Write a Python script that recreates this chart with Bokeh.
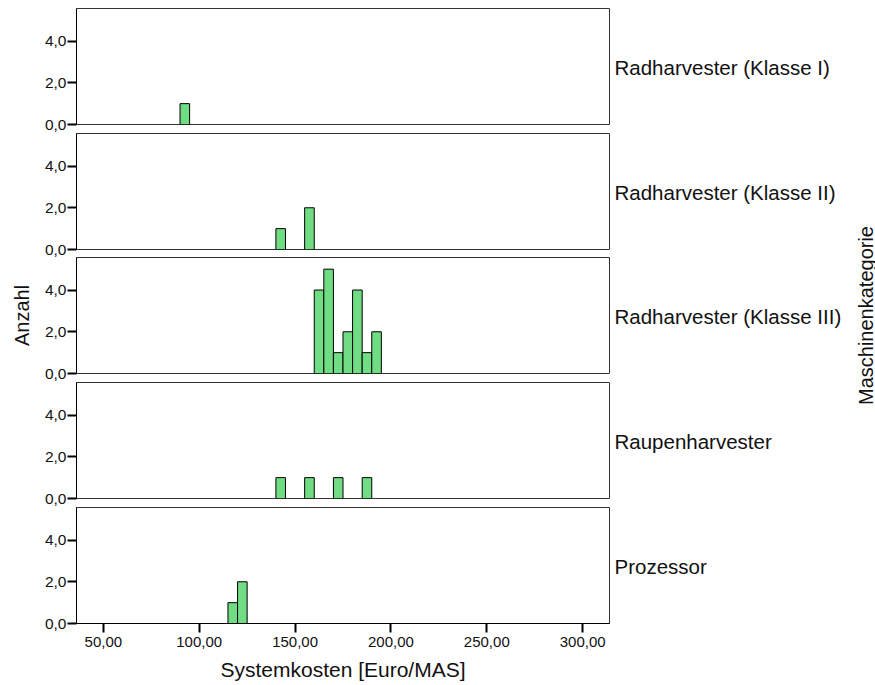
from bokeh.plotting import figure
from bokeh.layouts import column, row
from bokeh.models import Range1d, FixedTicker, LinearAxis, Label
from bokeh.embed import file_html
from bokeh.resources import INLINE
import math

# Histogram of system costs, one panel per machine category
categories = [
    "Radharvester (Klasse I)",
    "Radharvester (Klasse II)",
    "Radharvester (Klasse III)",
    "Raupenharvester",
    "Prozessor",
]
bin_width = 5.0

# left edges of the occupied bins and their counts
klasse1_bins = [90]
klasse1_counts = [1]
klasse2_bins = [140, 155]
klasse2_counts = [1, 2]
klasse3_bins = [160, 165, 170, 175, 180, 185, 190]
klasse3_counts = [4, 5, 1, 2, 4, 1, 2]
raupen_bins = [140, 155, 170, 185]
raupen_counts = [1, 1, 1, 1]
prozessor_bins = [115, 120]
prozessor_counts = [1, 2]

x_ticks = [50, 100, 150, 200, 250, 300]
x_tick_labels = ["50,00", "100,00", "150,00", "200,00", "250,00", "300,00"]
y_ticks = [0, 2, 4]
y_tick_labels = ["0,0", "2,0", "4,0"]

x_title = "Systemkosten [Euro/MAS]"
y_title = "Anzahl"
facet_title = "Maschinenkategorie"

series = [
    (klasse1_bins, klasse1_counts),
    (klasse2_bins, klasse2_counts),
    (klasse3_bins, klasse3_counts),
    (raupen_bins, raupen_counts),
    (prozessor_bins, prozessor_counts),
]

FONT = "Liberation Sans"
TEXT = "#111111"
BAR_FILL = "#70DC84"
X_MIN, X_MAX = 36.0, 314.0
Y_MAX = 5.56
LABEL_Y = 2.75
BORDER_LEFT = 76
FRAME_W = 533
BORDER_RIGHT = 238
PAGE_W, PAGE_H = 875, 685
top_borders = [8, 1, 0, 1, 1]
bottom_borders = [8, 8, 8, 8, 62]

panels = []
for i, (cat, (bins, counts)) in enumerate(zip(categories, series)):
    last = i == len(categories) - 1
    p = figure(
        output_backend="svg",
        toolbar_location=None,
        frame_width=FRAME_W,
        frame_height=116,
        x_range=Range1d(X_MIN, X_MAX),
        y_range=Range1d(0, Y_MAX),
        min_border_left=BORDER_LEFT,
        min_border_right=BORDER_RIGHT,
        min_border_top=top_borders[i],
        min_border_bottom=bottom_borders[i],
        background_fill_color="white",
        border_fill_color="white",
    )
    p.grid.visible = False
    p.outline_line_color = "#333333"
    p.outline_line_width = 1

    rights = [b + bin_width for b in bins]
    p.quad(left=bins, right=rights, bottom=0, top=counts,
           fill_color=BAR_FILL, line_color="black", line_width=1)

    # count axis
    ya = p.yaxis[0]
    ya.ticker = FixedTicker(ticks=y_ticks)
    ya.major_label_overrides = dict(zip(y_ticks, y_tick_labels))
    ya.minor_tick_line_color = None
    ya.major_tick_in = 0
    ya.major_tick_out = 9
    ya.major_tick_line_width = 2
    ya.major_tick_line_color = "black"
    ya.axis_line_color = "black"
    ya.major_label_standoff = 1
    ya.major_label_text_font = FONT
    ya.major_label_text_font_size = "15.5px"
    ya.major_label_text_color = TEXT
    if i == 2:
        ya.axis_label = y_title
        ya.axis_label_text_font = FONT
        ya.axis_label_text_font_size = "20px"
        ya.axis_label_text_font_style = "normal"
        ya.axis_label_text_color = TEXT
        ya.axis_label_standoff = 9

    # cost axis only on the bottom panel
    xa = p.xaxis[0]
    if last:
        xa.ticker = FixedTicker(ticks=x_ticks)
        xa.major_label_overrides = dict(zip(x_ticks, x_tick_labels))
        xa.minor_tick_line_color = None
        xa.major_tick_in = 0
        xa.major_tick_out = 9
        xa.major_tick_line_width = 2
        xa.major_tick_line_color = "black"
        xa.axis_line_color = "black"
        xa.major_label_standoff = 4
        xa.major_label_text_font = FONT
        xa.major_label_text_font_size = "15px"
        xa.major_label_text_color = TEXT
        xa.axis_label = x_title
        xa.axis_label_text_font = FONT
        xa.axis_label_text_font_size = "21px"
        xa.axis_label_text_font_style = "normal"
        xa.axis_label_text_color = TEXT
        xa.axis_label_standoff = 8
    else:
        xa.visible = False

    # category name on the right side of each panel
    cat_axis = LinearAxis(
        ticker=FixedTicker(ticks=[LABEL_Y]),
        major_label_overrides={LABEL_Y: cat},
        major_label_orientation="horizontal",
        axis_line_color=None,
        major_tick_line_color=None,
        minor_tick_line_color=None,
        major_tick_in=0,
        major_tick_out=0,
        major_label_standoff=5,
        major_label_text_font=FONT,
        major_label_text_font_size="20.5px",
        major_label_text_color=TEXT,
    )
    p.add_layout(cat_axis, "right")
    panels.append(p)

# narrow strip on the right holding the facet title
strip_w = PAGE_W - (BORDER_LEFT + FRAME_W + BORDER_RIGHT)
strip = figure(
    output_backend="svg",
    toolbar_location=None,
    frame_width=strip_w,
    frame_height=PAGE_H,
    x_range=Range1d(0, strip_w),
    y_range=Range1d(0, PAGE_H),
    min_border=0,
    outline_line_color=None,
    background_fill_color="white",
    border_fill_color="white",
)
strip.axis.visible = False
strip.grid.visible = False
strip.add_layout(Label(
    x=strip_w - 10, y=PAGE_H - 315, text=facet_title, angle=math.pi / 2,
    text_font=FONT, text_font_size="20px", text_color=TEXT,
    text_align="center", text_baseline="middle",
))

layout = row(column(*panels, spacing=0), strip, spacing=0)
open("out.html", "w").write(file_html(layout, INLINE))
